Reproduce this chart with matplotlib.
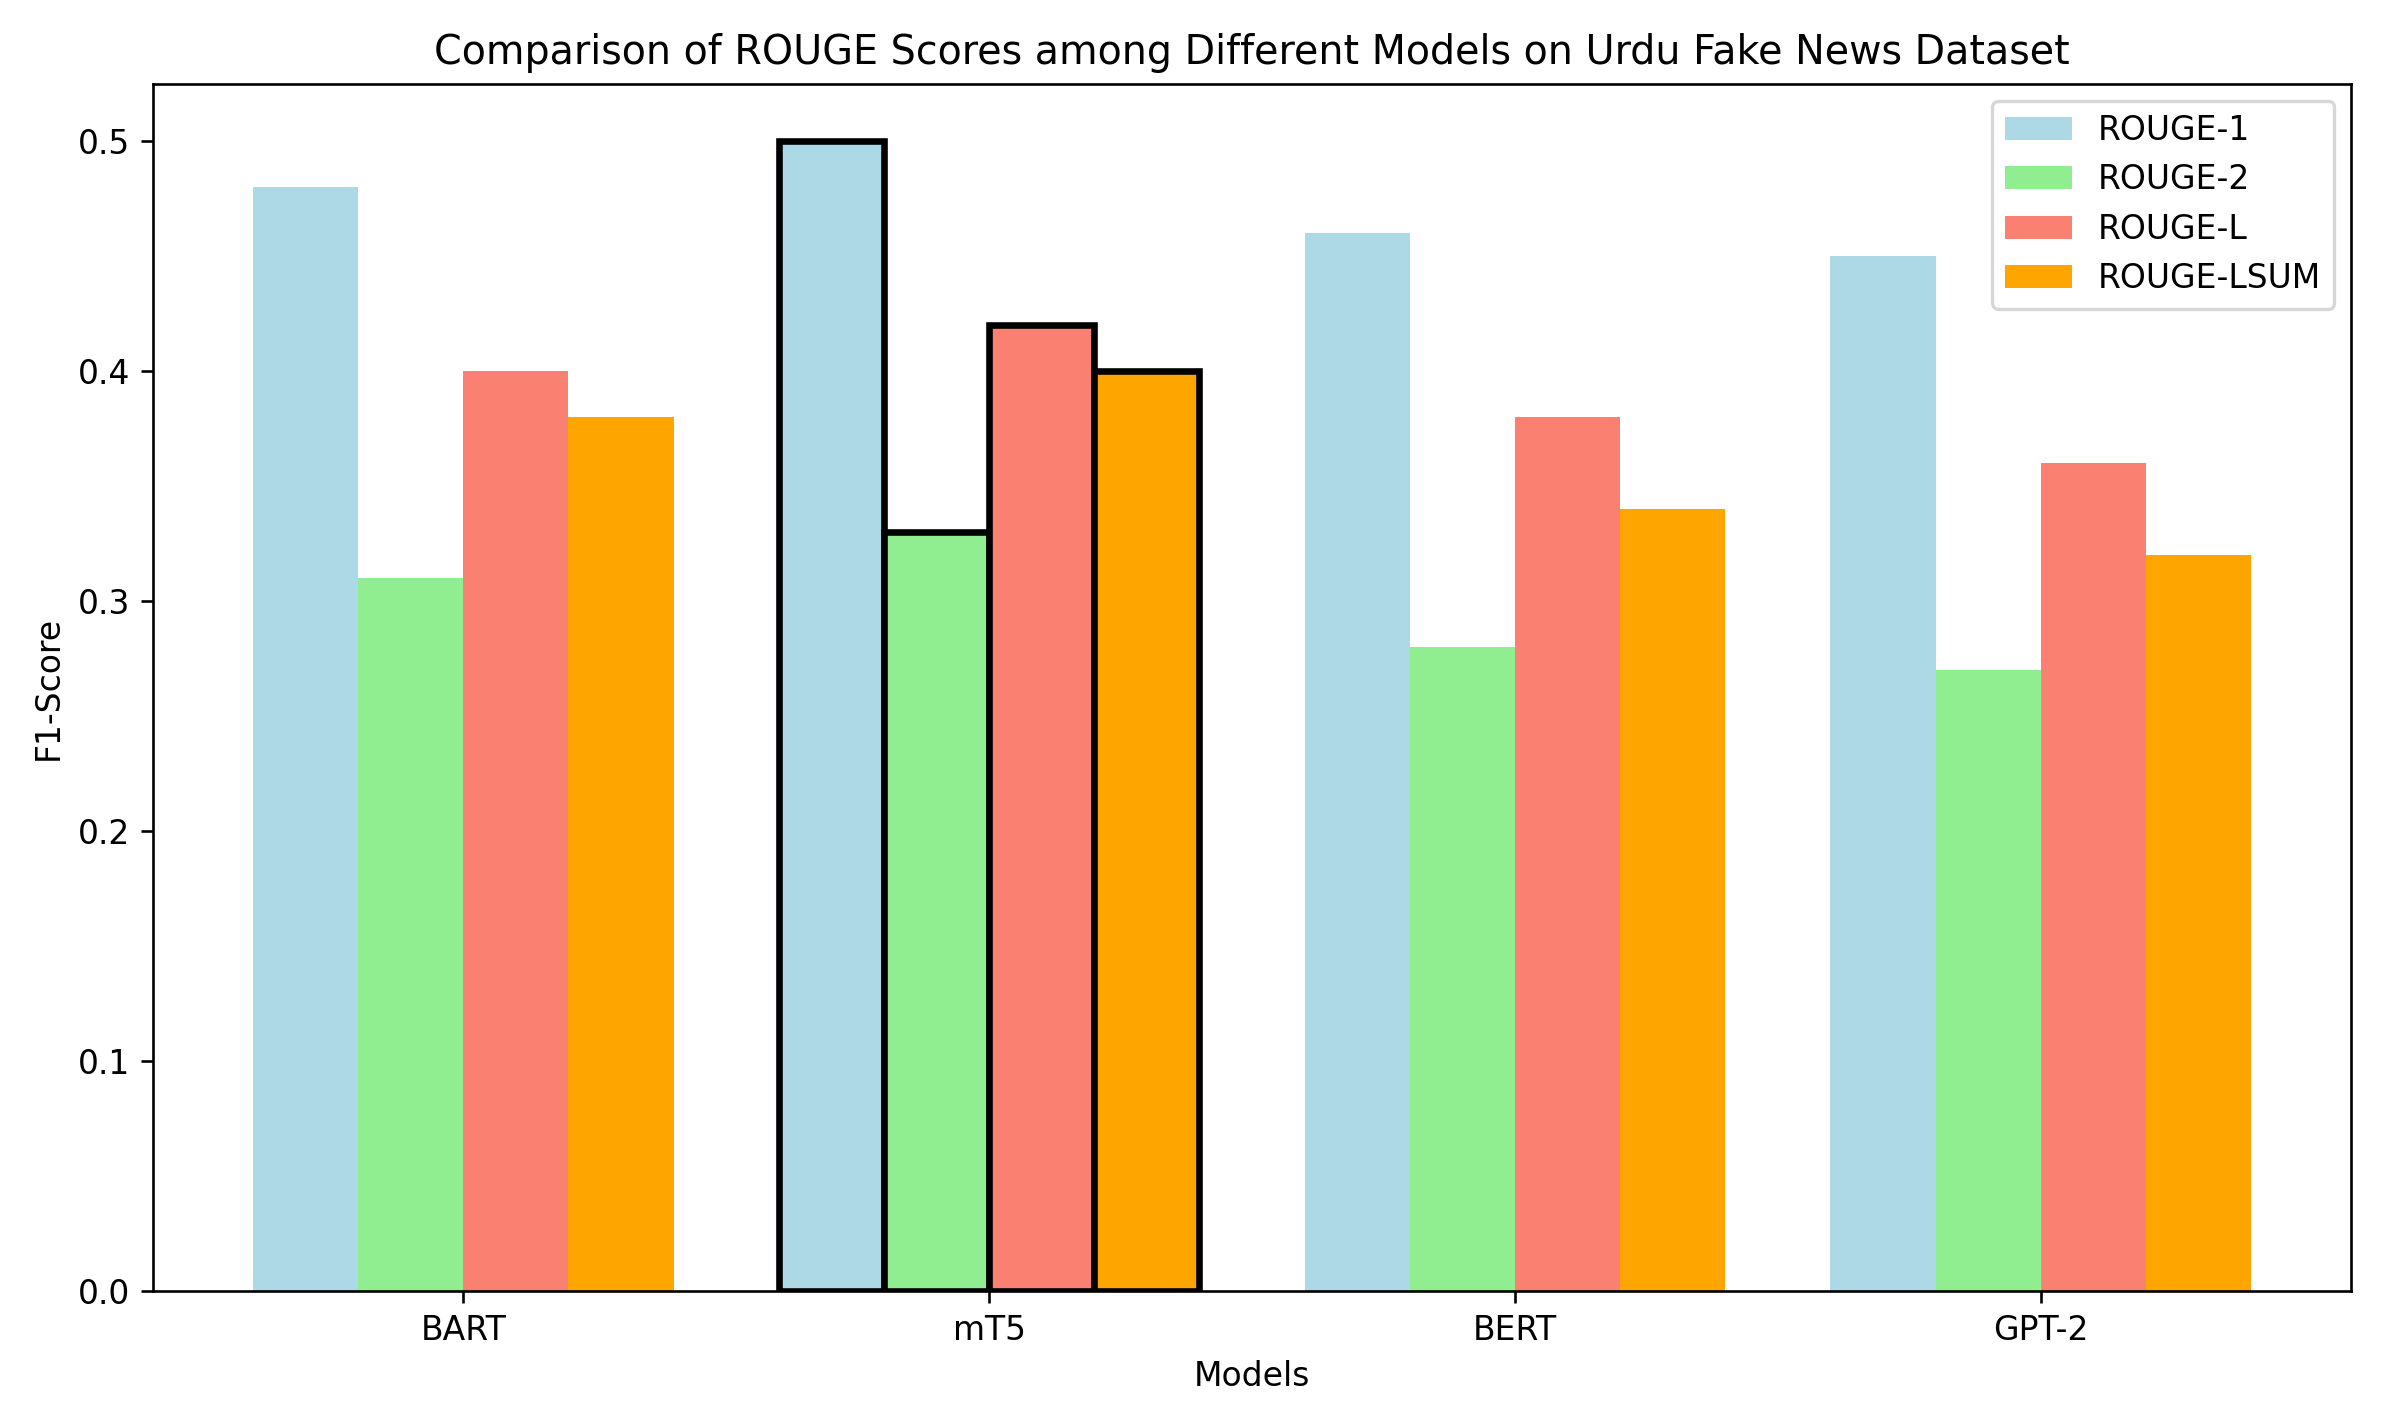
import matplotlib
matplotlib.use("Agg")
import matplotlib.pyplot as plt
import numpy as np

models = ["BART", "mT5", "BERT", "GPT-2"]
series = ["ROUGE-1", "ROUGE-2", "ROUGE-L", "ROUGE-LSUM"]
rouge1 = [0.48, 0.50, 0.46, 0.45]
rouge2 = [0.31, 0.33, 0.28, 0.27]
rougeL = [0.40, 0.42, 0.38, 0.36]
rougeLsum = [0.38, 0.40, 0.34, 0.32]
colors = ["lightblue", "lightgreen", "salmon", "orange"]
highlight = "mT5"

DPI = 238
fig = plt.figure(figsize=(2393/DPI, 1419/DPI), dpi=DPI)
ax = fig.add_axes([153/2393, 1 - 1291/1419, (2351-153)/2393, (1291-84)/1419])

x = np.arange(len(models))
w = 0.2
for j, (name, vals, c) in enumerate(zip(series, [rouge1, rouge2, rougeL, rougeLsum], colors)):
    bars = ax.bar(x + (j - 1.5) * w, vals, w, label=name, color=c)
    for m, b in zip(models, bars):
        if m == highlight:
            b.set_edgecolor("black")
            b.set_linewidth(2)

ax.set_xticks(x)
ax.set_xticklabels(models)
ax.set_xlabel("Models")
ax.set_ylabel("F1-Score")
ax.set_title("Comparison of ROUGE Scores among Different Models on Urdu Fake News Dataset", fontsize=12)
ax.legend(loc="upper right")
fig.savefig("out.png", dpi=DPI)
